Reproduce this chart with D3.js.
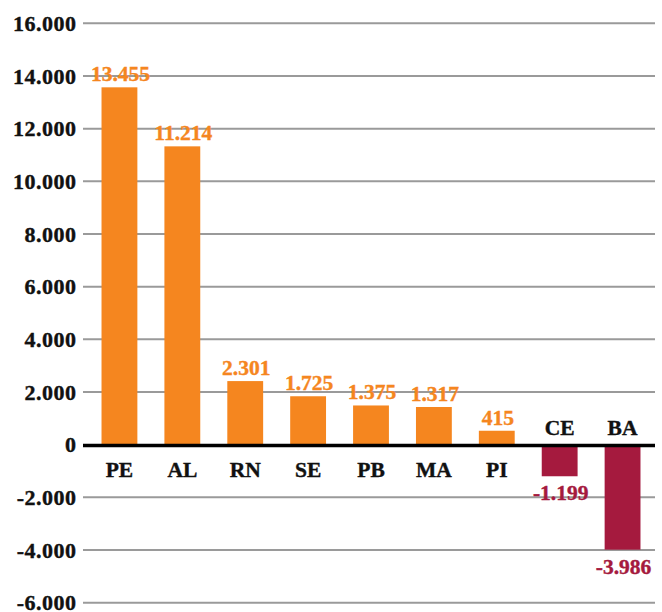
<!DOCTYPE html>
<html>
<head>
<meta charset="utf-8">
<script src="https://cdn.jsdelivr.net/npm/d3@7"></script>
<style>
  body { margin: 0; background: #fff; }
  svg text { font-family: "Liberation Serif", "Times New Roman", serif; font-weight: bold; stroke-width: 0.4px; }
</style>
</head>
<body>
<div id="chart"></div>
<script>
// states and balance values
var states = ['PE', 'AL', 'RN', 'SE', 'PB', 'MA', 'PI', 'CE', 'BA'];
var values = [13455, 11214, 2301, 1725, 1375, 1317, 415, -1199, -3986];
var yTicks = [-6000, -4000, -2000, 0, 2000, 4000, 6000, 8000, 10000, 12000, 14000, 16000];

var width = 662, height = 612;
var posColor = '#f5861f', negColor = '#a51a3e';

var fmt = function(v) {
  // pt-BR style thousands separator
  var s = Math.abs(v).toString().replace(/\B(?=(\d{3})+(?!\d))/g, '.');
  return (v < 0 ? '-' : '') + s;
};

var svg = d3.select('#chart').append('svg')
    .attr('width', width)
    .attr('height', height);

var x = d3.scaleBand().domain(states).range([88, 654]).paddingInner(0.43).paddingOuter(0.215);
var y = d3.scaleLinear().domain([-6000, 16000]).range([602.7, 23.3]);

// grid lines
svg.append('g').selectAll('line')
  .data(yTicks.filter(function(d) { return d !== 0; }))
  .enter().append('line')
    .attr('x1', 83).attr('x2', 655)
    .attr('y1', function(d) { return y(d); })
    .attr('y2', function(d) { return y(d); })
    .style('stroke', '#9a9a9a')
    .style('stroke-width', 2);

// y axis labels
svg.append('g').selectAll('text')
  .data(yTicks)
  .enter().append('text')
    .attr('x', 76.5)
    .attr('y', function(d) { return y(d); })
    .attr('dy', '0.35em')
    .attr('text-anchor', 'end')
    .style('font-size', '22px')
    .style('letter-spacing', '0.5px')
    .style('fill', '#111')
    .style('stroke', '#111')
    .text(fmt);

var data = states.map(function(s, i) { return {state: s, value: values[i]}; });

// bars
svg.append('g').selectAll('rect')
  .data(data)
  .enter().append('rect')
    .attr('x', function(d) { return x(d.state); })
    .attr('width', x.bandwidth())
    .attr('y', function(d) { return d.value > 0 ? y(d.value) - 3 : y(0); })
    .attr('height', function(d) { return Math.abs(y(d.value) - y(0)) + (d.value > 0 ? 3 : 0); })
    .style('fill', function(d) { return d.value >= 0 ? posColor : negColor; });

// zero line
svg.append('line')
  .attr('x1', 83).attr('x2', 655)
  .attr('y1', y(0) + 0.8).attr('y2', y(0) + 0.8)
  .style('stroke', '#000')
  .style('stroke-width', 3.5);

// value labels
svg.append('g').selectAll('text')
  .data(data)
  .enter().append('text')
    .attr('x', function(d) { return x(d.state) + x.bandwidth() / 2 + 1; })
    .attr('y', function(d) { return d.value > 0 ? y(d.value) - 9 : y(d.value) + 24; })
    .attr('text-anchor', 'middle')
    .style('font-size', '21.5px')
    .style('fill', function(d) { return d.value >= 0 ? posColor : negColor; })
    .style('stroke', function(d) { return d.value >= 0 ? posColor : negColor; })
    .text(function(d) { return fmt(d.value); });

// category labels
svg.append('g').selectAll('text')
  .data(data)
  .enter().append('text')
    .attr('x', function(d) { return x(d.state) + x.bandwidth() / 2; })
    .attr('y', function(d) { return d.value >= 0 ? y(0) + 32 : y(0) - 10; })
    .attr('text-anchor', 'middle')
    .style('font-size', '21.5px')
    .style('fill', '#111')
    .style('stroke', '#111')
    .text(function(d) { return d.state; });
</script>
</body>
</html>
